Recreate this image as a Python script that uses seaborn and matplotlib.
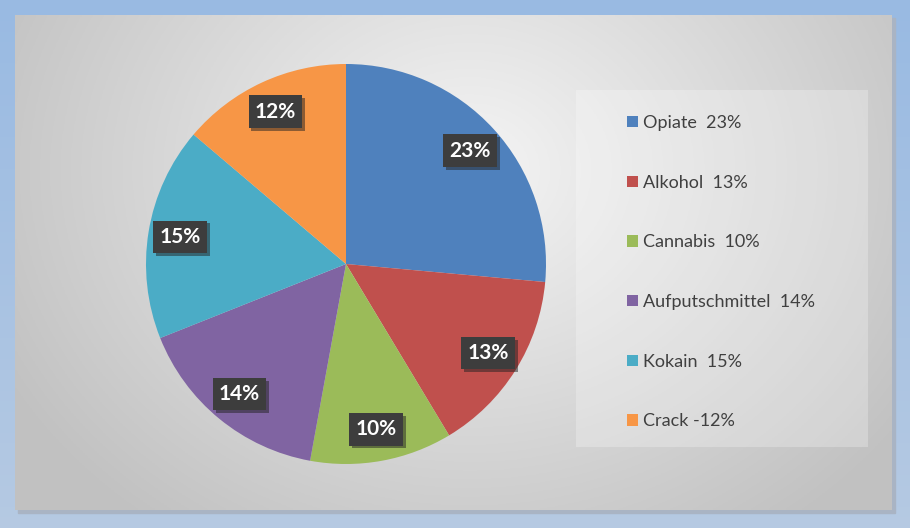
import numpy as np
import matplotlib
matplotlib.use("Agg")
import matplotlib.pyplot as plt
import matplotlib.patheffects as pe
from matplotlib.patches import Rectangle, Patch
import seaborn as sns

sns.set_theme(style="white")
plt.rcParams['font.family'] = ['Lato', 'DejaVu Sans']

# Daten
categories = ["Opiate", "Alkohol", "Cannabis", "Aufputschmittel", "Kokain", "Crack"]
values = [23, 13, 10, 14, 15, 12]
legend_labels = ["Opiate  23%", "Alkohol  13%", "Cannabis  10%",
                 "Aufputschmittel  14%", "Kokain  15%", "Crack -12%"]
colors = ["#4F81BD", "#C0504D", "#9BBB59", "#8064A2", "#4BACC6", "#F79646"]

W, H = 910, 528
fig = plt.figure(figsize=(W / 100, H / 100), dpi=100)

# blauer Rahmen (leichter Verlauf)
bg = fig.add_axes([0, 0, 1, 1])
yy = np.linspace(0, 1, 50)[:, None] * np.ones((1, 50))
top = np.array([0.60, 0.73, 0.89])
bot = np.array([0.71, 0.79, 0.89])
blue = top[None, None, :] * (1 - yy[..., None]) + bot[None, None, :] * yy[..., None]
bg.imshow(blue, extent=[0, W, H, 0], aspect='auto')
bg.set_xlim(0, W)
bg.set_ylim(H, 0)
bg.axis('off')

# graues Panel mit radialem Verlauf
px0, py0, px1, py1 = 15, 15, 892, 510
bg.add_patch(Rectangle((px0 + 3, py0 + 3), px1 - px0, py1 - py0, color="#a9b4c4", zorder=1))
gx, gy = np.meshgrid(np.linspace(px0, px1, 300), np.linspace(py0, py1, 200))
d = np.sqrt(((gx - 470) / 500) ** 2 + ((gy - 170) / 420) ** 2)
g = np.clip(0.96 - 0.19 * d, 0.76, 0.96)
bg.imshow(np.dstack([g, g, g]), extent=[px0, px1, py1, py0], aspect='auto', zorder=2)

# Legendenkasten
bg.add_patch(Rectangle((576, 90), 292, 357, facecolor="white", alpha=0.25,
                       edgecolor="none", zorder=3))

# Kreisdiagramm
r = 200
cx, cy = 346, 264
ax = fig.add_axes([(cx - r) / W, (H - cy - r) / H, 2 * r / W, 2 * r / H])
wedges, texts, autotexts = ax.pie(
    values, colors=colors, startangle=90, counterclock=False,
    autopct=lambda p: "", pctdistance=0.84,
    wedgeprops=dict(linewidth=0, edgecolor="none"))
for at, v in zip(autotexts, values):
    at.set_text(f"{v}%")
    at.set_color("white")
    at.set_fontsize(15)
    at.set_fontweight("bold")
    at.set_bbox(dict(boxstyle="square,pad=0.3", facecolor="#3d3d3d",
                     edgecolor="none",
                     path_effects=[pe.withSimplePatchShadow(offset=(2, -2),
                                                            shadow_rgbFace="#222222",
                                                            alpha=0.5)]))
ax.set_xlim(-1, 1)
ax.set_ylim(-1, 1)
ax.set_aspect('equal')

# Legende
handles = [Patch(facecolor=c, edgecolor="none") for c in colors]
leg = fig.legend(handles, legend_labels, loc="upper left",
                 bbox_to_anchor=(618 / W, 1 - 106 / H), frameon=False,
                 fontsize=13, labelspacing=2.42, handlelength=0.6,
                 handleheight=0.6, handletextpad=0.3, borderpad=0)
for t in leg.get_texts():
    t.set_color("#404040")

fig.savefig("out.png", dpi=100)
